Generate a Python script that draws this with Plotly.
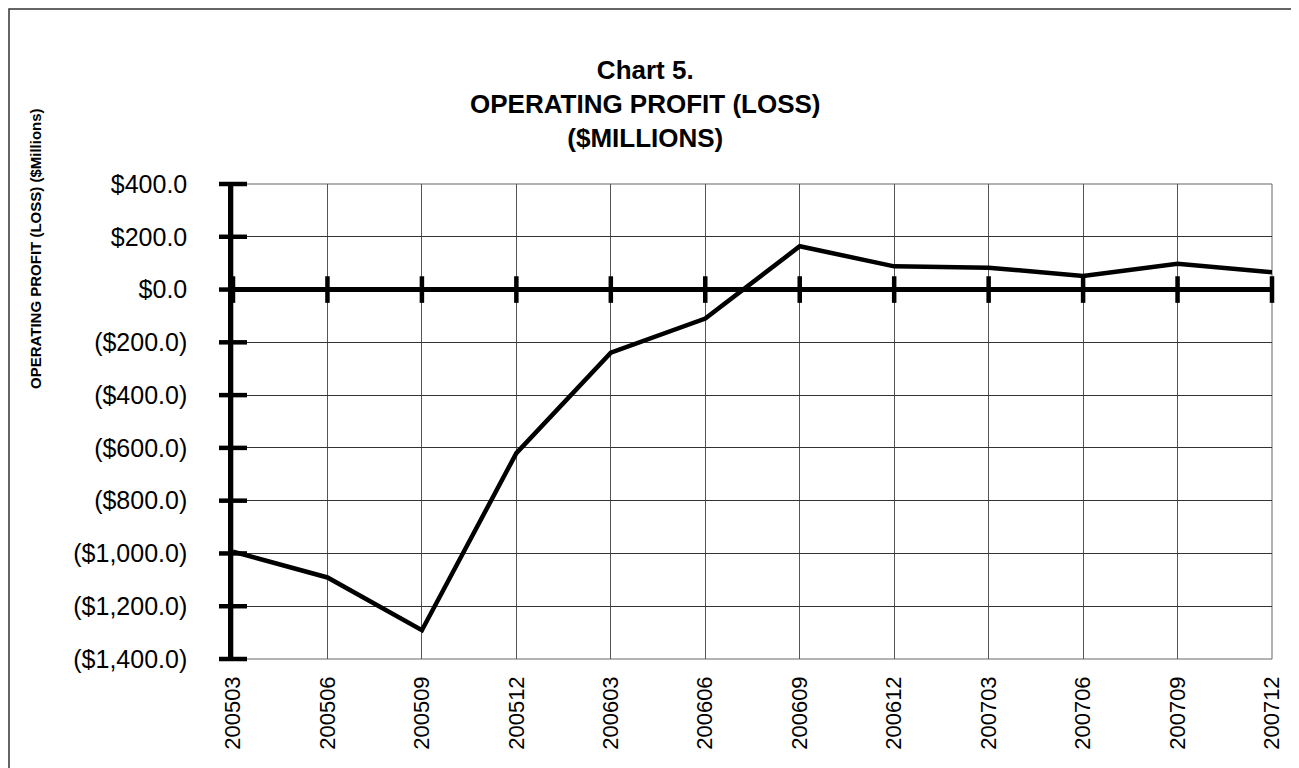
import plotly.graph_objects as go

periods = ["200503", "200506", "200509", "200512", "200603", "200606",
           "200609", "200612", "200703", "200706", "200709", "200712"]
profit = [-993, -1091, -1291, -620, -239, -110, 164, 88, 83, 51, 98, 66]

y_ticks = [400, 200, 0, -200, -400, -600, -800, -1000, -1200, -1400]
y_tick_text = ["$400.0", "$200.0", "$0.0", "($200.0)", "($400.0)", "($600.0)",
               "($800.0)", "($1,000.0)", "($1,200.0)", "($1,400.0)"]

title_lines = ["Chart 5.", "OPERATING PROFIT (LOSS)", "($MILLIONS)"]
y_title = "OPERATING PROFIT (LOSS) ($Millions)"

OFF = 8  # page body margin
W, H = 1299 - OFF, 768 - OFF
# plot area in screen coords: left 233, right 1272, top 184, bottom 659
L, T = 233 - OFF, 184 - OFF
R = W - (1272 - OFF)
B = H - (659 - OFF)
pw, ph = W - L - R, H - T - B

def px(x):  # screen x -> paper
    return (x - OFF - L) / pw

def py(y):  # screen y -> paper
    return (H - B - (y - OFF)) / ph

fig = go.Figure()

fig.add_trace(go.Scatter(x=periods, y=profit, mode="lines",
                         line=dict(color="black", width=4.5),
                         hoverinfo="skip", showlegend=False))

fig.add_trace(go.Scatter(x=periods, y=[0] * len(periods), mode="markers",
                         marker=dict(symbol="line-ns", size=19,
                                     line=dict(color="black", width=4.5)),
                         cliponaxis=False, hoverinfo="skip", showlegend=False))

fig.add_trace(go.Scatter(x=[periods[0]] * len(y_ticks), y=y_ticks, mode="markers",
                         marker=dict(symbol="line-ew", size=20,
                                     line=dict(color="black", width=4.5)),
                         cliponaxis=False, hoverinfo="skip", showlegend=False))

font_family = "Liberation Sans, Arial, sans-serif"

fig.update_layout(
    width=W, height=H,
    margin=dict(l=L, r=R, t=T, b=B, pad=0),
    paper_bgcolor="white", plot_bgcolor="white",
    font=dict(family=font_family, color="black"),
    showlegend=False,
    hovermode=False,
    xaxis=dict(type="category", range=[0, len(periods) - 1],
               tickmode="array", tickvals=periods, ticktext=periods,
               tickangle=-90, tickfont=dict(size=22, family=font_family),
               ticks="", ticklabelstandoff=12,
               showgrid=True, gridcolor="#555", gridwidth=1,
               showline=False, zeroline=False, fixedrange=True),
    yaxis=dict(range=[-1400, 400], tickmode="array", tickvals=y_ticks,
               ticktext=y_tick_text, tickfont=dict(size=25, family=font_family),
               ticks="", ticklabelstandoff=36,
               showgrid=True, gridcolor="#333", gridwidth=1,
               showline=True, linecolor="black", linewidth=4.5,
               zeroline=True, zerolinecolor="black", zerolinewidth=4.5,
               fixedrange=True),
    shapes=[
        dict(type="rect", xref="paper", yref="paper", x0=0, x1=1, y0=0, y1=1,
             line=dict(color="#666", width=1), layer="below"),
        dict(type="rect", xref="paper", yref="paper",
             x0=px(9), x1=px(1320), y0=py(790), y1=py(9),
             line=dict(color="#333", width=1.5), layer="below"),
    ],
)

fig.add_annotation(text="<br>".join("<b>" + t + "</b>" for t in title_lines),
                   xref="paper", yref="paper",
                   x=px(645), y=py(104), xanchor="center", yanchor="middle",
                   align="center", showarrow=False,
                   font=dict(size=26, family=font_family))

fig.add_annotation(text="<b>" + y_title + "</b>", xref="paper", yref="paper",
                   x=px(35), y=py(249), xanchor="center", yanchor="middle",
                   textangle=-90, showarrow=False,
                   font=dict(size=15, family=font_family))

fig.write_html("out.html")
